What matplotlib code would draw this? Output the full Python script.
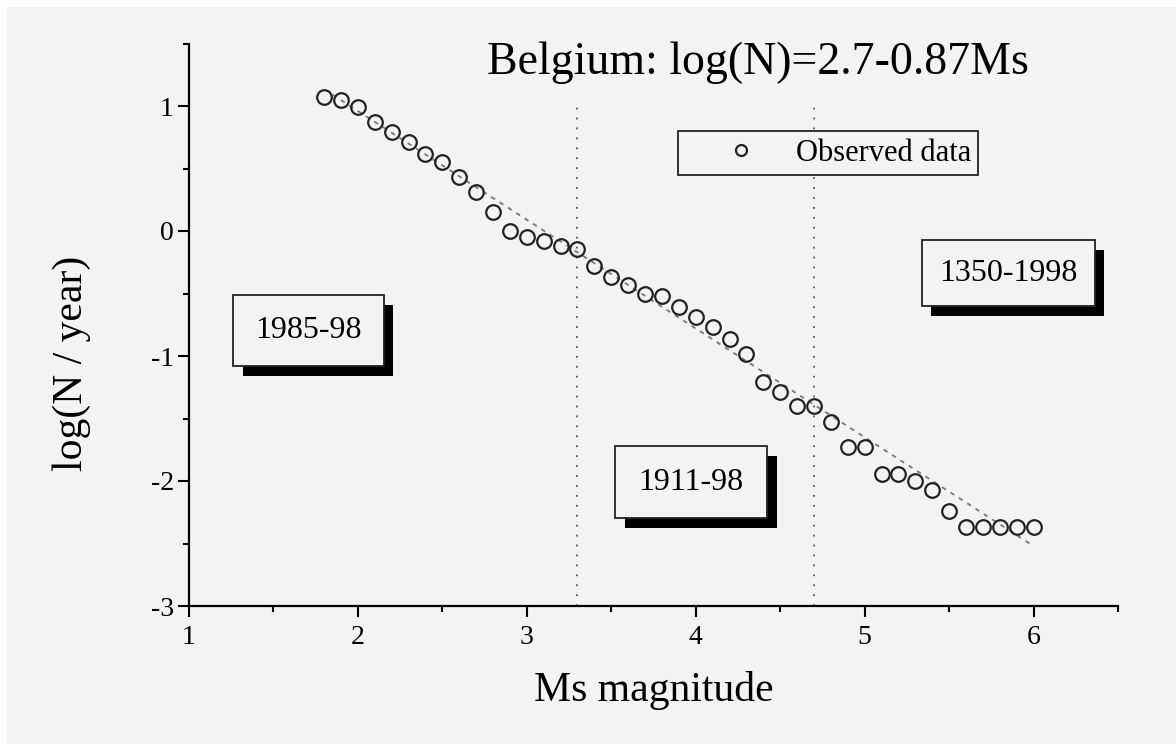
import numpy as np
import matplotlib
matplotlib.use("Agg")
import matplotlib.pyplot as plt
import matplotlib.patheffects as pe
from matplotlib.patches import Rectangle
from matplotlib.ticker import MultipleLocator

plt.rcParams['font.family'] = ['Liberation Serif', 'DejaVu Serif']
plt.rcParams['axes.unicode_minus'] = False

ms = [1.8, 1.9, 2.0, 2.1, 2.2, 2.3, 2.4, 2.5, 2.6, 2.7, 2.8, 2.9, 3.0, 3.1,
      3.2, 3.3, 3.4, 3.5, 3.6, 3.7, 3.8, 3.9, 4.0, 4.1, 4.2, 4.3, 4.4, 4.5,
      4.6, 4.7, 4.8, 4.9, 5.0, 5.1, 5.2, 5.3, 5.4, 5.5, 5.6, 5.7, 5.8, 5.9, 6.0]
log_n = [1.07, 1.05, 0.99, 0.87, 0.79, 0.71, 0.62, 0.55, 0.43, 0.31, 0.15, 0.0,
         -0.045, -0.08, -0.12, -0.14, -0.28, -0.37, -0.43, -0.50, -0.52, -0.61,
         -0.69, -0.77, -0.86, -0.98, -1.21, -1.29, -1.40, -1.40, -1.53, -1.73,
         -1.73, -1.94, -1.94, -2.00, -2.07, -2.24, -2.37, -2.37, -2.37, -2.37, -2.37]

# Gutenberg-Richter fit from the title
fit_a = 2.7
fit_b = 0.87
fit_range = [1.85, 6.0]

period_bounds = [3.3, 4.7]
period_labels = ["1985-98", "1911-98", "1350-1998"]
# box extents (x0, x1, y0, y1) in data units
period_boxes = [(1.26, 2.153, -1.082, -0.514),
                (3.522, 4.421, -2.298, -1.722),
                (5.338, 6.361, -0.602, -0.074)]

bg = '#f3f3f3'

fig = plt.figure(figsize=(11.76, 7.44), dpi=100, facecolor=bg)
# thin white strips along top and left edge (scan margin)
fig.patches.append(Rectangle((0, 0), 7 / 1176, 1, transform=fig.transFigure,
                             facecolor='white', edgecolor='none', zorder=-10))
fig.patches.append(Rectangle((0, 1 - 7 / 744), 1, 7 / 744, transform=fig.transFigure,
                             facecolor='white', edgecolor='none', zorder=-10))
ax = fig.add_axes([189 / 1176, 1 - 606 / 744, 929 / 1176, 562.5 / 744])
ax.set_facecolor('none')

ax.set_xlim(1, 6.5)
ax.set_ylim(-3, 1.5)

# dotted period boundaries
ax.vlines(period_bounds, -3, 1.05, colors='#555555', linestyles=(0, (1, 4.5)), lw=1.3, zorder=1)

# fit line
xf = np.linspace(fit_range[0], fit_range[1], 50)
ax.plot(xf, fit_a - fit_b * xf, color='#777777', lw=1.3, ls=(0, (2.5, 3)), zorder=2)

ax.plot(ms, log_n, 'o', ms=10.5, mfc='none', mec='#222222', mew=1.6,
        label='Observed data', zorder=3)

# period boxes with drop shadow
for (x0, x1, y0, y1), lab in zip(period_boxes, period_labels):
    r = Rectangle((x0, y0), x1 - x0, y1 - y0, facecolor=bg, edgecolor='#222222', lw=1.3,
                  zorder=4)
    r.set_path_effects([pe.withSimplePatchShadow(offset=(7, -7), shadow_rgbFace='black',
                                                 alpha=1.0)])
    ax.add_patch(r)
    ax.text((x0 + x1) / 2, (y0 + y1) / 2, lab, ha='center', va='center', fontsize=23,
            zorder=5)

leg = ax.legend(loc='center', bbox_to_anchor=(0.688, 0.805), fontsize=22,
                frameon=True, fancybox=False, framealpha=1, facecolor=bg,
                edgecolor='#222222', borderpad=0.25, handlelength=3.6,
                handletextpad=0.0, markerscale=0.75)
leg.get_frame().set_linewidth(1.3)

ax.text(0.6125, 0.965, 'Belgium: log(N)=2.7-0.87Ms', transform=ax.transAxes,
        ha='center', va='center', fontsize=33)

for s in ['top', 'right']:
    ax.spines[s].set_visible(False)
for s in ['left', 'bottom']:
    ax.spines[s].set_linewidth(1.6)

ax.xaxis.set_major_locator(MultipleLocator(1))
ax.xaxis.set_minor_locator(MultipleLocator(0.5))
ax.yaxis.set_major_locator(MultipleLocator(1))
ax.yaxis.set_minor_locator(MultipleLocator(0.5))
ax.tick_params(which='major', direction='out', length=8, width=1.5, labelsize=20)
ax.tick_params(which='minor', direction='out', length=4, width=1.5)
ax.tick_params(axis='x', which='major', pad=6)
ax.tick_params(axis='y', which='major', pad=3)

ax.set_xlabel('Ms magnitude', fontsize=30)
ax.xaxis.set_label_coords(0.5, -0.15)
ax.xaxis.label.set_va('center')
ax.set_ylabel('log(N / year)', fontsize=30)
ax.yaxis.set_label_coords(-0.126, 0.432)
ax.yaxis.label.set_va('center')

fig.savefig('out.png', dpi=100, facecolor=fig.get_facecolor())
